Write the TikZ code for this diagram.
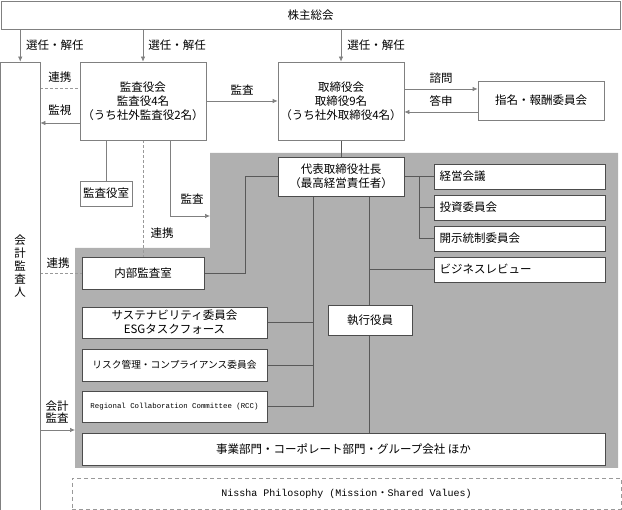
\documentclass[tikz,border=0pt]{standalone}
\usepackage{fontspec}
\usepackage{graphicx}
\setmainfont{Noto Sans CJK JP}
\setmonofont{Liberation Mono}
\usetikzlibrary{arrows.meta,backgrounds,shadows}
\newcommand{\msz}{\fontsize{11.5}{14}\selectfont}
\begin{document}
\begin{tikzpicture}[x=1pt,y=-1pt,
  box/.style={draw=black!50, fill=white, line width=0.7pt, inner sep=0pt, align=center, font=\msz},
  ibox/.style={box, draw=black!70, drop shadow={shadow xshift=0.8pt, shadow yshift=-0.8pt, fill=black!55, opacity=1}},
  lbl/.style={inner sep=0pt, font=\msz, align=center},
  con/.style={draw=black!65, line width=0.7pt},
  ocon/.style={draw=black!50, line width=0.7pt},
  arr/.style={ocon, -{Latex[length=5pt,width=4.5pt]}},
  dsh/.style={draw=black!40, line width=0.7pt, dash pattern=on 3pt off 2pt}]
\useasboundingbox (0,0) rectangle (622,510);
% nodes outside
\node[box, minimum width=619pt, minimum height=28pt] (top) at (310.5,15) {株主総会};
\node[box, minimum width=39.5pt, minimum height=452pt] (kaikei) at (20.25,288) {};
\node[lbl, font=\fontsize{11.5}{13}\selectfont] (kaikeilbl) at (20,266) {会\\計\\監\\査\\人};
\node[box, minimum width=126pt, minimum height=78pt] (kansa) at (143,101) {監査役会\\監査役4名\\（うち社外監査役2名）};
\node[box, minimum width=126pt, minimum height=78pt] (tori) at (341,101) {取締役会\\取締役9名\\（うち社外取締役4名）};
\node[box, minimum width=126pt, minimum height=39pt] (shimei) at (541,100.5) {指名・報酬委員会};
\node[box, minimum width=52pt, minimum height=25pt] (kshitsu) at (106,193.5) {監査役室};
% nodes inside grey
\node[ibox, minimum width=122pt, minimum height=32pt] (naibu) at (143,273) {内部監査室};
\node[ibox, minimum width=126pt, minimum height=39pt] (daihyo) at (341,176.5) {代表取締役社長\\（最高経営責任者）};
\node[ibox, minimum width=171pt, minimum height=25pt, text width=160pt, align=left] (keiei) at (519.5,176.5) {経営会議};
\node[ibox, minimum width=171pt, minimum height=25pt, text width=160pt, align=left] (toshi) at (519.5,207.5) {投資委員会};
\node[ibox, minimum width=171pt, minimum height=25pt, text width=160pt, align=left] (kaiji) at (519.5,238.5) {開示統制委員会};
\node[ibox, minimum width=171pt, minimum height=25pt, text width=160pt, align=left] (biz) at (519.5,269.5) {ビジネスレビュー};
\node[ibox, minimum width=84pt, minimum height=30pt] (shikko) at (370,320) {執行役員};
\node[ibox, minimum width=185pt, minimum height=31pt] (sustain) at (174.5,322.5) {サステナビリティ委員会\\ESGタスクフォース};
\node[ibox, minimum width=185pt, minimum height=32pt, font=\fontsize{9.7}{12}\selectfont] (risk) at (174.5,365) {リスク管理・コンプライアンス委員会};
\node[ibox, minimum width=185pt, minimum height=31pt, font=\ttfamily\fontsize{8}{9}\selectfont] (rcc) at (174.5,406.5) {\resizebox{168pt}{!}{Regional Collaboration Committee (RCC)}};
\node[ibox, minimum width=523pt, minimum height=32pt] (jigyo) at (343.5,449) {事業部門・コーポレート部門・グループ会社 ほか};
\node[box, draw=black!40, dash pattern=on 4pt off 3pt, minimum width=549pt, minimum height=31pt, font=\fontsize{10}{12}\selectfont] (nissha) at (346.5,493.5) {{\ttfamily Nissha Philosophy (Mission}・{\ttfamily Shared Values)}};
% labels
\node[lbl] (l1) at (55,45) {選任・解任};
\node[lbl] (l2) at (177,45) {選任・解任};
\node[lbl] (l3) at (376,45) {選任・解任};
\node[lbl] (l4) at (60,77) {連携};
\node[lbl] (l5) at (60,110) {監視};
\node[lbl] (l6) at (242,90) {監査};
\node[lbl] (l7) at (441,78) {諮問};
\node[lbl] (l8) at (441,101) {答申};
\node[lbl] (l9) at (192,199) {監査};
\node[lbl] (l10) at (162,233) {連携};
\node[lbl] (l11) at (58,263) {連携};
\node[lbl, font=\fontsize{11.5}{12.5}\selectfont] (l12) at (57,412) {会計\\監査};
% connectors
\coordinate (gA) at (210,216);
\coordinate (gB) at (75,430);
\coordinate (j1) at (245,176.5);
\coordinate (j2) at (419,176.5);
\coordinate (j3) at (369,269.5);
\coordinate (j4) at (313,406.5);
\begin{scope}[on background layer]
\fill[black!31] (210,153) -- (618,153) -- (618,468) -- (75,468) -- (75,248) -- (210,248) -- cycle;
\draw[arr] (kaikei.north |- top.south) -- (kaikei.north);
\draw[arr] (kansa.north |- top.south) -- (kansa.north);
\draw[arr] (tori.north |- top.south) -- (tori.north);
\draw[dsh] (kaikei.east |- 0,88) -- (kansa.west |- 0,88);
\draw[arr] (kansa.west |- 0,123) -- (kaikei.east |- 0,123);
\draw[arr] (kansa.east) -- (tori.west);
\draw[arr] (tori.east |- 0,89) -- (shimei.west |- 0,89);
\draw[arr] (shimei.west |- 0,112) -- (tori.east |- 0,112);
\draw[ocon] (kshitsu.north |- kansa.south) -- (kshitsu.north);
\draw[dsh] (kansa.south) -- (naibu.north);
\draw[arr] (kansa.south -| 170,0) |- (gA);
\draw[dsh] (kaikei.east |- naibu.west) -- (naibu.west);
\draw[arr] (kaikei.east |- gB) -- (gB);
\draw[con] (naibu.east) -| (j1) -- (daihyo.west);
\draw[con] (tori.south) -- (daihyo.north);
\draw[con] (daihyo.east) -- (keiei.west);
\draw[con] (j2) |- (kaiji.west);
\draw[con] (j2 |- toshi.west) -- (toshi.west);
\draw[con] (daihyo.south -| j3) -- (jigyo.north -| j3);
\draw[con] (j3) -- (biz.west);
\draw[con] (daihyo.south -| j4) -- (j4) -- (rcc.east);
\draw[con] (j4 |- sustain.east) -- (sustain.east);
\draw[con] (j4 |- risk.east) -- (risk.east);
\end{scope}
\end{tikzpicture}
\end{document}
